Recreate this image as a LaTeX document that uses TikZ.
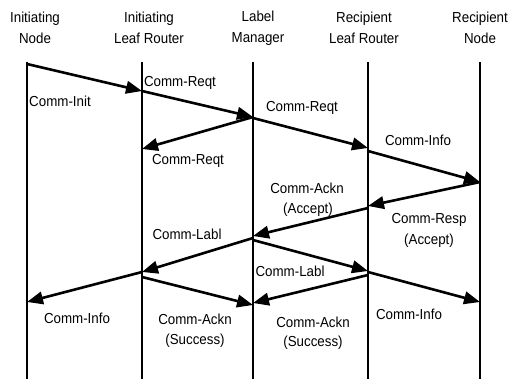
\documentclass[tikz,border=0pt]{standalone}
\usepackage{fontspec}
\setmainfont{Liberation Sans}
\newfontfamily\lblfont[FakeStretch=0.92]{Liberation Sans}
\usetikzlibrary{arrows.meta}
\begin{document}
\begin{tikzpicture}[x=1pt,y=-1pt,
  life/.style={line width=2.6pt},
  msg/.style={line width=2.6pt,-{Triangle[length=16pt,width=12.5pt]}},
  lbl/.style={font=\lblfont\fontsize{14.5}{16}\selectfont,inner sep=0pt,align=center},
  head/.style={font=\lblfont\fontsize{14.5}{21}\selectfont,inner sep=0pt,align=center}]
\useasboundingbox (0,0) rectangle (510,379);
% headers
\node[head] (h1) at (35,28) {Initiating\\Node};
\node[head] (h2) at (149,28) {Initiating\\Leaf Router};
\node[head] (h3) at (258,28) {Label\\Manager};
\node[head] (h4) at (364,28) {Recipient\\Leaf Router};
\node[head] (h5) at (480,28) {Recipient\\Node};
% lifelines
\foreach \i/\x in {1/27,2/142,3/253,4/368,5/480}{
  \coordinate (t\i) at (\x,62);
  \coordinate (b\i) at (\x,381);
  \draw[life] (t\i) -- (b\i);
}
% message endpoints
\coordinate (a1) at (27,64);   \coordinate (a2) at (142,91);
\coordinate (c1) at (142,91);  \coordinate (c2) at (253,117);
\coordinate (d1) at (253,117); \coordinate (d2) at (142,149);
\coordinate (e1) at (253,118); \coordinate (e2) at (368,148);
\coordinate (f1) at (368,151); \coordinate (f2) at (480,182);
\coordinate (g1) at (480,182); \coordinate (g2) at (368,206);
\coordinate (k1) at (368,208); \coordinate (k2) at (253,236);
\coordinate (l1) at (253,238); \coordinate (l2) at (142,272);
\coordinate (m1) at (253,240); \coordinate (m2) at (368,271);
\coordinate (n1) at (142,272); \coordinate (n2) at (27,302);
\coordinate (o1) at (142,277); \coordinate (o2) at (253,305);
\coordinate (p1) at (368,275); \coordinate (p2) at (253,303);
\coordinate (q1) at (368,272); \coordinate (q2) at (480,302);
\draw[msg] (a1) -- (a2);
\draw[msg] (c1) -- (c2);
\draw[msg] (d1) -- (d2);
\draw[msg] (e1) -- (e2);
\draw[msg] (f1) -- (f2);
\draw[msg] (g1) -- (g2);
\draw[msg] (k1) -- (k2);
\draw[msg] (l1) -- (l2);
\draw[msg] (m1) -- (m2);
\draw[msg] (n1) -- (n2);
\draw[msg] (o1) -- (o2);
\draw[msg] (p1) -- (p2);
\draw[msg] (q1) -- (q2);
% labels
\node[lbl] (L1) at (60,101) {Comm-Init};
\node[lbl] (L2) at (180,83) {Comm-Reqt};
\node[lbl] (L3) at (188,161) {Comm-Reqt};
\node[lbl] (L4) at (302,108) {Comm-Reqt};
\node[lbl] (L5) at (418,140) {Comm-Info};
\node[lbl] (L6) at (307,188) {Comm-Ackn};
\node[lbl] (L6b) at (308,210) {(Accept)};
\node[lbl] (L7) at (429,220) {Comm-Resp};
\node[lbl] (L7b) at (429,241) {(Accept)};
\node[lbl] (L8) at (187,234) {Comm-Labl};
\node[lbl] (L9) at (290,271) {Comm-Labl};
\node[lbl] (L10) at (77,318) {Comm-Info};
\node[lbl] (L11) at (195,319) {Comm-Ackn};
\node[lbl] (L11b) at (195,341) {(Success)};
\node[lbl] (L12) at (313,322) {Comm-Ackn};
\node[lbl] (L12b) at (313,343) {(Success)};
\node[lbl] (L13) at (409,314) {Comm-Info};
\end{tikzpicture}
\end{document}
